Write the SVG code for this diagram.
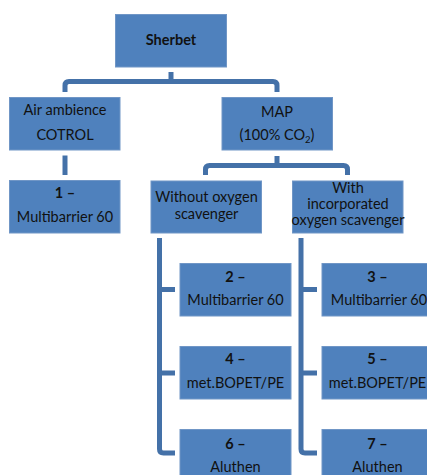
<svg xmlns="http://www.w3.org/2000/svg" width="427" height="475" viewBox="0 0 427 475">
<style>
.box{fill:#4F81BD;stroke:#7096C6;stroke-width:1}
.t{font-family:Lato,"Liberation Sans",sans-serif;font-size:14.5px;fill:#111;text-anchor:middle}
.b{font-weight:bold}
.c{fill:none;stroke:#4471A8;stroke-width:5}
</style>
<rect width="427" height="475" fill="#fff"/>
<g id="connectors">
<path class="c" d="M171,72 V81.5"/>
<path class="c" d="M65,92 V85.5 Q65,81.5 69,81.5 H273 Q277,81.5 277,85.5 V92"/>
<path class="c" d="M65,155.5 V175"/>
<path class="c" d="M277,156 V165.5"/>
<path class="c" d="M205.5,175 V169.5 Q205.5,165.5 209.5,165.5 H343.5 Q347.5,165.5 347.5,169.5 V175"/>
<path class="c" d="M159.5,238 V449 Q159.5,453 163.5,453 H175 M159.5,289.5 H175 M159.5,373 H175"/>
<path class="c" d="M301,238 V449 Q301,453 305,453 H317 M301,289.5 H317 M301,373 H317"/>
</g>
<g id="sherbet"><rect class="box" x="115.5" y="14.5" width="111" height="52.5"/><text class="t b" x="171" y="45">Sherbet</text></g>
<g id="air"><rect class="box" x="9.5" y="97.5" width="110.5" height="52.5"/><text class="t" x="65" y="115">Air ambience</text><text class="t" x="65" y="140">COTROL</text></g>
<g id="map"><rect class="box" x="222" y="97.5" width="110.5" height="52.5"/><text class="t" x="277" y="116.5">MAP</text><text class="t" x="277" y="140">(100% CO<tspan font-size="9.5" dy="3">2</tspan><tspan dy="-3">)</tspan></text></g>
<g id="n1"><rect class="box" x="9.5" y="180.5" width="110.5" height="52.5"/><text class="t b" x="65" y="198">1 –</text><text class="t" x="65" y="222">Multibarrier 60</text></g>
<g id="without"><rect class="box" x="151" y="181" width="110.5" height="52"/><text class="t" x="206.5" y="202">Without oxygen</text><text class="t" x="206.5" y="218.5">scavenger</text></g>
<g id="with"><rect class="box" x="292.5" y="181" width="110.5" height="52"/><text class="t" x="348" y="193">With</text><text class="t" x="348" y="209">incorporated</text><text class="t" x="348" y="225">oxygen scavenger</text></g>
<g id="n2"><rect class="box" x="180" y="263.5" width="111" height="52.5"/><text class="t b" x="235.5" y="282">2 –</text><text class="t" x="235.5" y="305">Multibarrier 60</text></g>
<g id="n3"><rect class="box" x="322" y="263.5" width="111" height="52.5"/><text class="t b" x="377.5" y="282">3 –</text><text class="t" x="379" y="305">Multibarrier 60</text></g>
<g id="n4"><rect class="box" x="180" y="346.5" width="111" height="52.5"/><text class="t b" x="235.5" y="364">4 –</text><text class="t" x="235.5" y="388">met.BOPET/PE</text></g>
<g id="n5"><rect class="box" x="322" y="346.5" width="111" height="52.5"/><text class="t b" x="377.5" y="364">5 –</text><text class="t" x="377.5" y="388">met.BOPET/PE</text></g>
<g id="n6"><rect class="box" x="180" y="429.5" width="111" height="52.5"/><text class="t b" x="235.5" y="449">6 –</text><text class="t" x="235.5" y="472">Aluthen</text></g>
<g id="n7"><rect class="box" x="322" y="429.5" width="111" height="52.5"/><text class="t b" x="377.5" y="449">7 –</text><text class="t" x="377.5" y="472">Aluthen</text></g>
</svg>
